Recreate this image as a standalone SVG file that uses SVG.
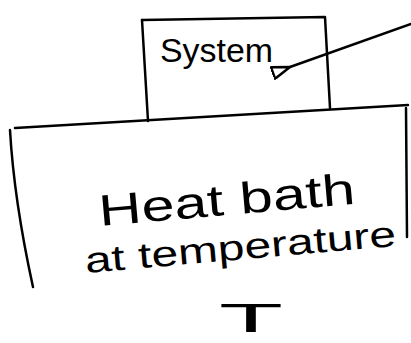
<svg xmlns="http://www.w3.org/2000/svg" width="411" height="343" viewBox="0 0 411 343">
<style>
.ln{fill:none;stroke:#000;stroke-width:2.5;stroke-linecap:round;stroke-linejoin:round}
.tx{font-family:"Liberation Sans","DejaVu Sans",sans-serif;fill:#000}
</style>
<defs>
<marker id="ah" viewBox="0 0 20 14" refX="1" refY="7" markerWidth="20" markerHeight="14" markerUnits="userSpaceOnUse" orient="auto">
<path d="M19,1 L1,7 L19,13 Z" fill="none" stroke="#000" stroke-width="2.5" stroke-linejoin="round"/>
</marker>
</defs>
<rect width="411" height="343" fill="#fff"/>
<g id="bath">
<path class="ln" d="M15,128 L408,105"/>
<path class="ln" d="M10,130 Q14,200 33,287"/>
<path class="ln" d="M406,108 L407,237"/>
<text class="tx" x="100" y="226" font-size="44" textLength="257" lengthAdjust="spacingAndGlyphs" transform="rotate(-5 100 226)">Heat bath</text>
<text class="tx" x="86" y="273" font-size="36" textLength="312" lengthAdjust="spacingAndGlyphs" transform="rotate(-5 86 273)">at temperature</text>
<text class="tx" x="219" y="332" font-size="40" textLength="64" lengthAdjust="spacingAndGlyphs">T</text>
</g>
<g id="system">
<path class="ln" d="M142,20 L325,17 L330,108"/>
<path class="ln" d="M142,20 L148,121"/>
<text class="tx" x="160" y="62" font-size="33" textLength="113" lengthAdjust="spacingAndGlyphs">System</text>
</g>
<g id="connectors">
<path class="ln" d="M411,24 L290,67" marker-end="url(#ah)"/>
</g>
</svg>
